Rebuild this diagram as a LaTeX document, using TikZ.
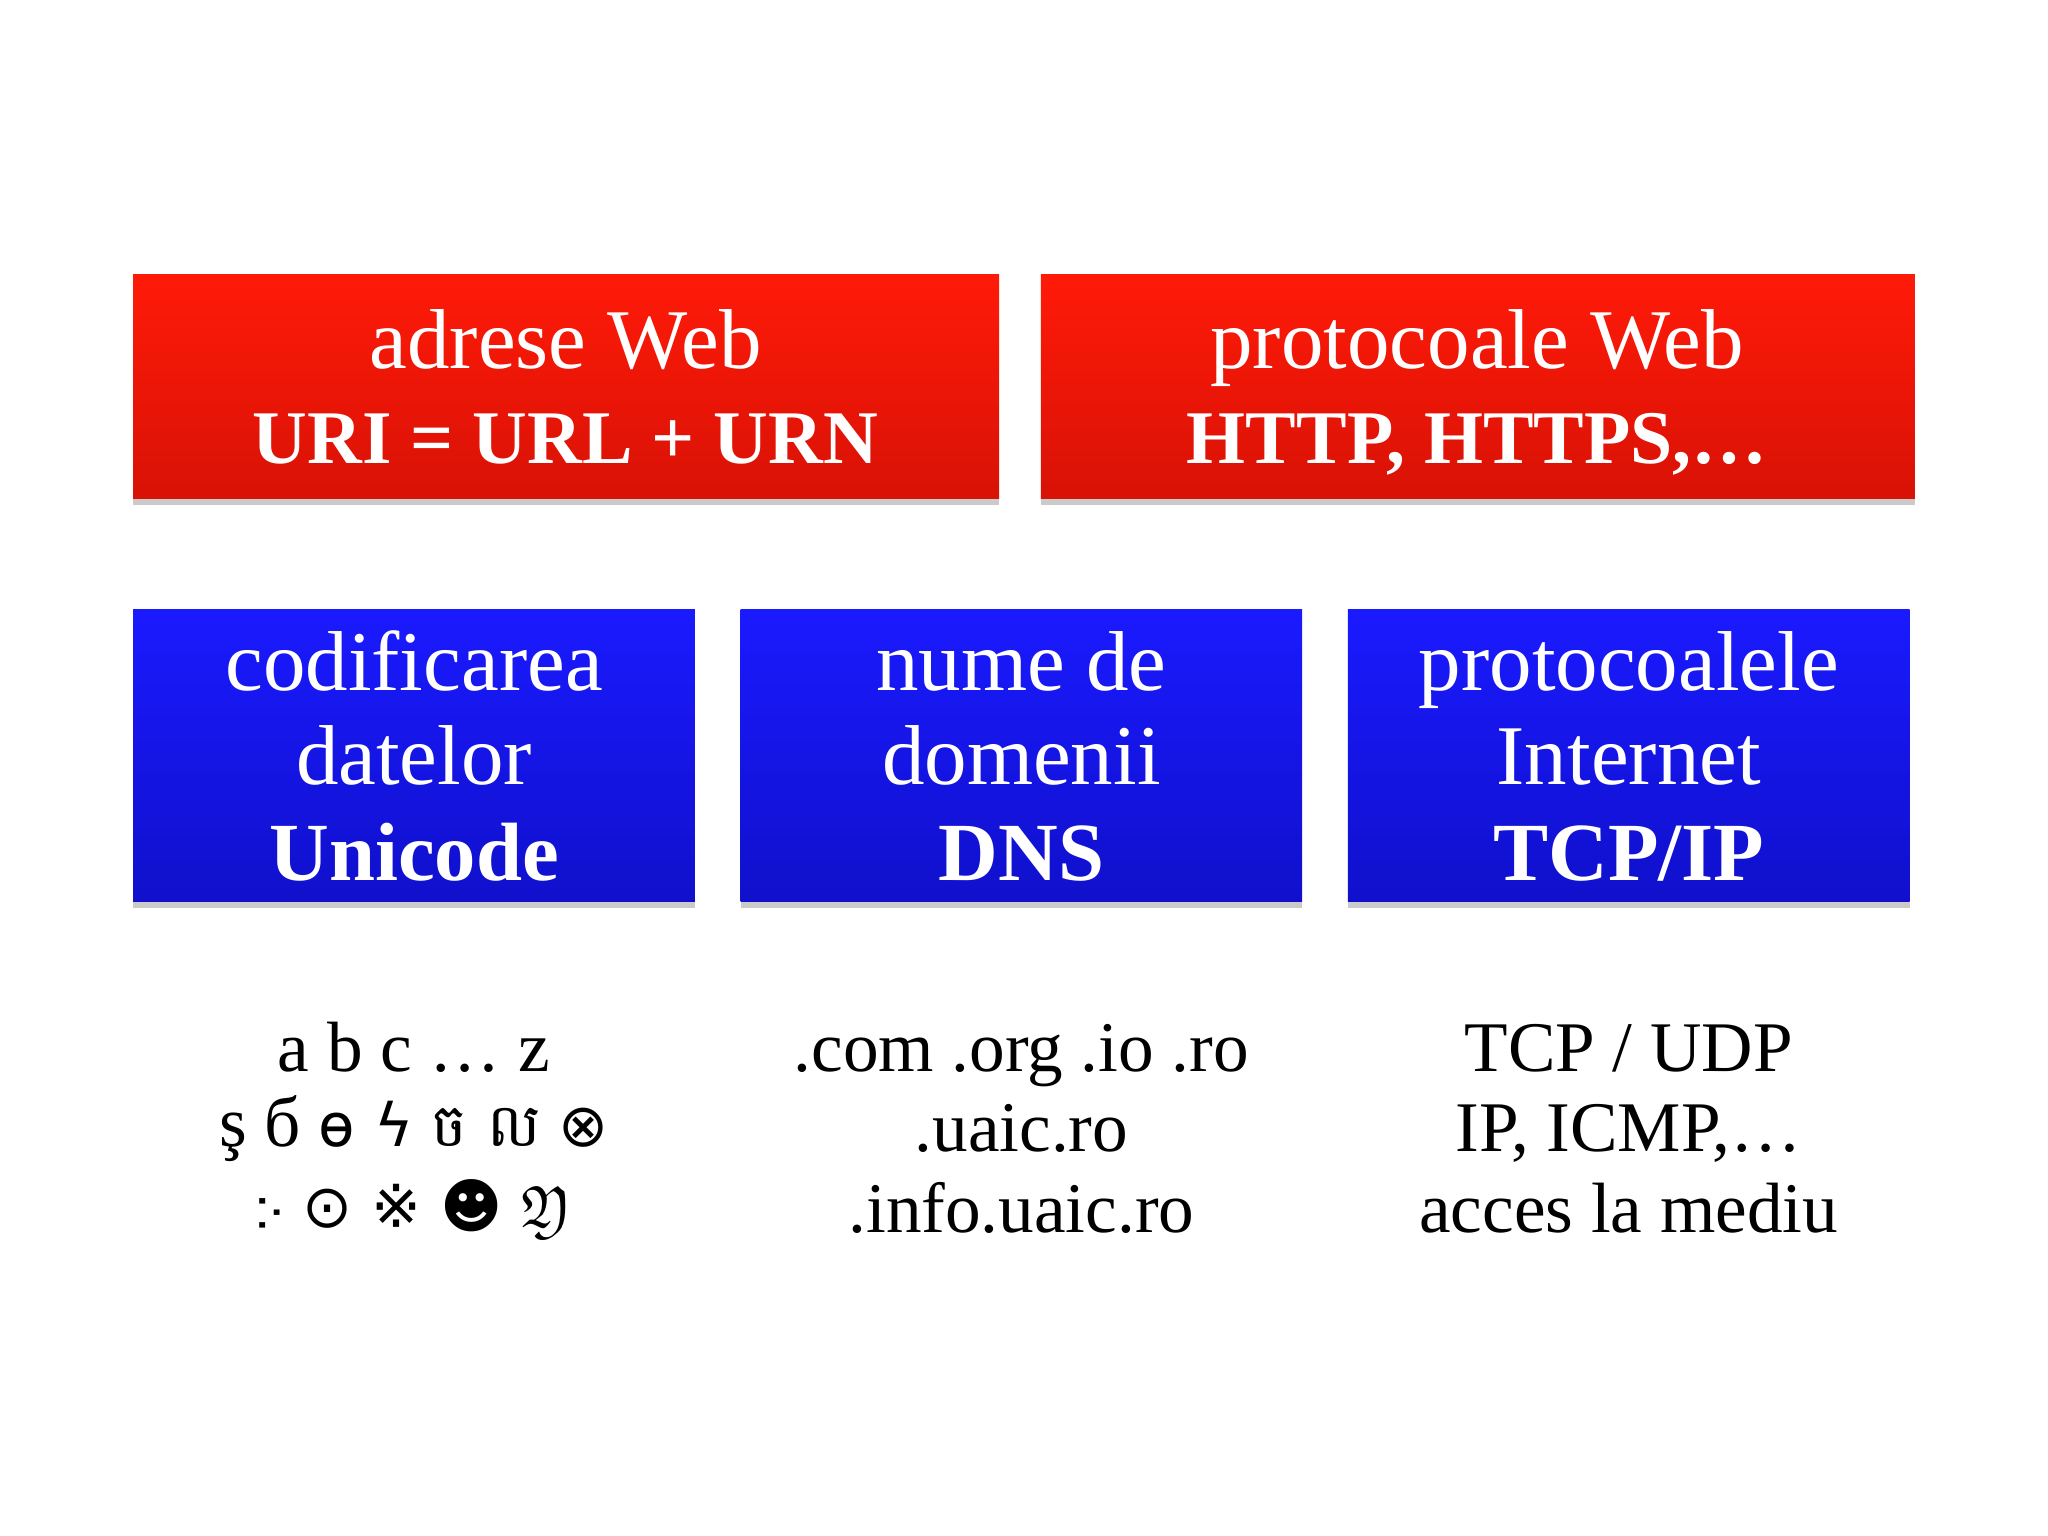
\documentclass[tikz,border=0pt]{standalone}
\usepackage{fontspec}
\usepackage{amssymb}
\setmainfont{Liberation Serif}
\newfontfamily\djv{DejaVu Sans}
\newfontfamily\khm[Script=Khmer]{Battambang}
\usetikzlibrary{shadows}
\definecolor{rtop}{HTML}{FF1A08}\definecolor{rbot}{HTML}{D81206}
\definecolor{btop}{HTML}{1A1AFF}\definecolor{bbot}{HTML}{1010CC}
\tikzset{
 redbox/.style={draw=none,top color=rtop,bottom color=rbot,drop shadow={shadow xshift=0pt,shadow yshift=-0.05cm,fill=black!35,opacity=.6}},
 bluebox/.style={draw=none,top color=btop,bottom color=bbot,drop shadow={shadow xshift=0pt,shadow yshift=-0.05cm,fill=black!35,opacity=.6}},
 wt/.style={text=white,font=\fontsize{18.5}{19}\selectfont,anchor=base},
 wb/.style={text=white,font=\fontsize{16.5}{17}\selectfont\bfseries,anchor=base},
 bt/.style={text=black,font=\fontsize{15.5}{16}\selectfont,anchor=base}
}
\begin{document}
\begin{tikzpicture}[x=0.01cm,y=-0.01cm]
\useasboundingbox (0,0) rectangle (1568,1176);
\path[redbox] (102,210) rectangle (765,382);
\path[redbox] (797,210) rectangle (1466,382);
\path[bluebox] (102,467) rectangle (532,690);
\path[bluebox] (567,467) rectangle (997,690);
\path[bluebox] (1032,467) rectangle (1462,690);
\node[wt] (a1) at (433,282) {adrese Web};
\node[wb] (a2) at (433,355) {URI = URL + URN};
\node[wt] (b1) at (1131,282) {protocoale Web};
\node[wb] (b2) at (1131,355) {HTTP, HTTPS,\ldots};
\node[wt] (c1) at (317,529) {codificarea};
\node[wt] (c2) at (317,601) {datelor};
\node[wb,font=\fontsize{18}{18}\selectfont\bfseries] (c3) at (317,674) {Unicode};
\node[wt] (d1) at (782,529) {nume de};
\node[wt] (d2) at (782,601) {domenii};
\node[wb,font=\fontsize{18}{18}\selectfont\bfseries] (d3) at (782,674) {DNS};
\node[wt] (e1) at (1247,529) {protocoalele};
\node[wt] (e2) at (1247,601) {Internet};
\node[wb,font=\fontsize{18}{18}\selectfont\bfseries] (e3) at (1247,674) {TCP/IP};
\node[bt] (f1) at (317,820) {a b c \ldots\ z};
\node[bt] (f2) at (317,878) {ş б {\djv\fontsize{13}{13}\selectfont ɵ ϟ} {\khm\fontsize{13}{13}\selectfont ច ល} {\djv\fontsize{13}{13}\selectfont ⊗}};
\node[bt] (f3) at (317,940) {\djv\fontsize{13}{13}\selectfont ჻ ⊙ ※ ☻ $\mathfrak{Y}$};
\node[bt] (g1) at (782,820) {.com .org .io .ro};
\node[bt] (g2) at (782,882) {.uaic.ro};
\node[bt] (g3) at (782,944) {.info.uaic.ro};
\node[bt] (h1) at (1247,820) {TCP / UDP};
\node[bt] (h2) at (1247,882) {IP, ICMP,\ldots};
\node[bt] (h3) at (1247,944) {acces la mediu};
\end{tikzpicture}
\end{document}
